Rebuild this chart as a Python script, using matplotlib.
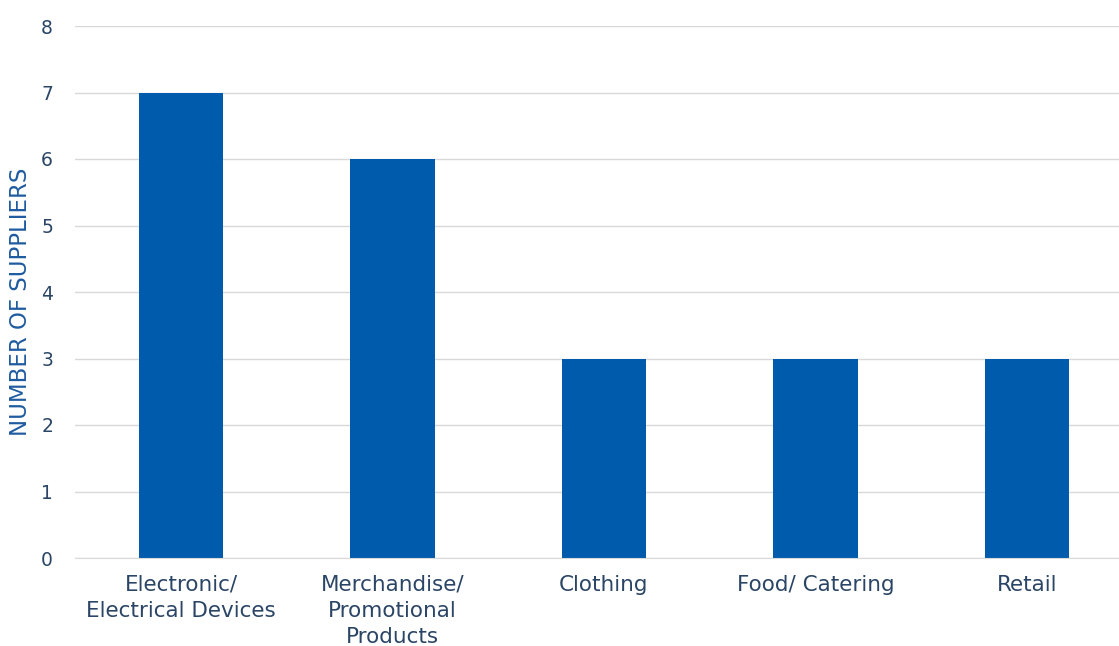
import matplotlib
matplotlib.use("Agg")
import matplotlib.pyplot as plt

categories = ["Electronic/\nElectrical Devices", "Merchandise/\nPromotional\nProducts",
              "Clothing", "Food/ Catering", "Retail"]
values = [7, 6, 3, 3, 3]
yticks = [0, 1, 2, 3, 4, 5, 6, 7, 8]

plt.rcParams['font.family'] = ['DejaVu Sans']

fig = plt.figure(figsize=(11.19, 6.46), dpi=100)
ax = fig.add_axes([75.25/1119, 1-558/646, 1057.5/1119, 532/646])
ax.bar(range(len(categories)), values, width=0.4, color="#005BAC", zorder=3)
ax.set_xlim(-0.5, 4.5)
ax.set_ylim(0, 8)
ax.set_yticks(yticks)
ax.set_xticks(range(len(categories)))
ax.set_xticklabels(categories, fontsize=15.5, color="#2B4566", linespacing=1.38)
ax.tick_params(axis='y', labelsize=13.5, labelcolor="#2B4566", length=0, pad=16)
ax.tick_params(axis='x', length=0, pad=12)
ax.grid(axis='y', color="#D9D9D9", linewidth=1.0, zorder=0)
for s in ["top", "right", "left"]:
    ax.spines[s].set_visible(False)
ax.spines["bottom"].set_color("#D9D9D9")
ax.spines["bottom"].set_zorder(4)
ax.set_ylabel("NUMBER OF SUPPLIERS", fontsize=16.5, color="#1F5BA0")
ax.yaxis.set_label_coords(-(75.25-32)/1057.5, (558-302)/532)
fig.savefig("out.png", dpi=100)
